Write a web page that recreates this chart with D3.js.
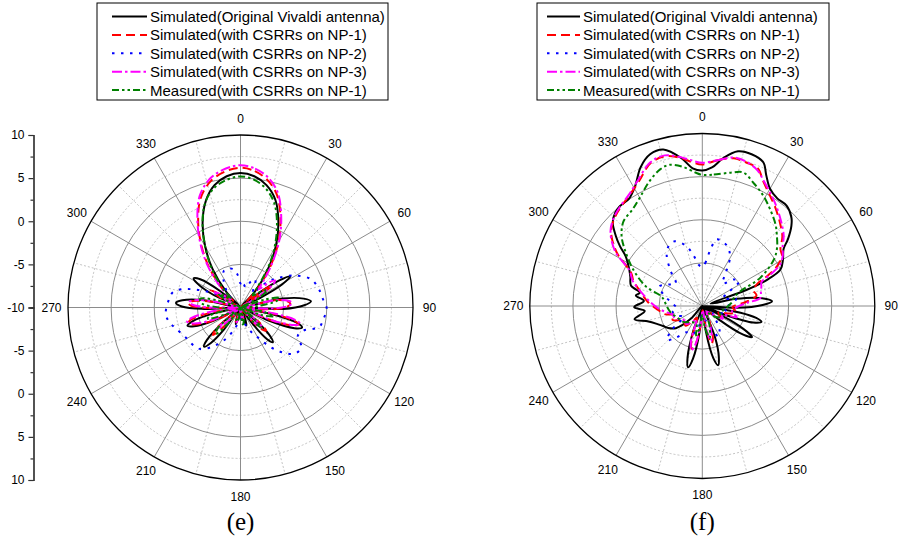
<!DOCTYPE html>
<html>
<head>
<meta charset="utf-8">
<script src="https://cdn.jsdelivr.net/npm/d3@7"></script>
<style>
  body { margin: 0; background: #fff; }
  svg { display: block; }
  text { font-family: "Liberation Sans", Arial, sans-serif; fill: #000; }
</style>
</head>
<body>
<svg id="chart" width="899" height="542"></svg>
<script>
// ---- data: [angle in degrees, gain in dB] ----
const seriesNames = [
  "Simulated(Original Vivaldi antenna)",
  "Simulated(with CSRRs on NP-1)",
  "Simulated(with CSRRs on NP-2)",
  "Simulated(with CSRRs on NP-3)",
  "Measured(with CSRRs on NP-1)"
];
const angleTicks = d3.range(0, 360, 30);
const axisTicks = [-10, -5, 0, 5, 10];
const axisMinor = [-7.5, -2.5, 2.5, 7.5];

// plot (e)
const simOrigE = [[0,5.6],[6,5.3],[12,4.5],[18,3.1],[24,0.8],[30,-1.8],[36,-4.7],[42,-7.5],[47,-10],
  [52,-7],[55,-4.5],[58,-3.2],[61,-4.5],[64,-7.5],[71,-10],
  [78,-5],[82,-2.6],[85,-1.8],[88,-2.6],[92,-5],[97,-10],
  [102,-6],[105,-3.3],[108,-2.5],[111,-3.3],[115,-6.5],[122,-10],
  [131,-7],[134,-5.2],[137,-4.5],[140,-5.2],[144,-8],[150,-10],
  [158,-8.5],[162,-7.8],[166,-9],[172,-10],[180,-10],
  [190,-9],[196,-8],[201,-9],[208,-10],
  [217,-6.8],[220,-4.6],[223,-3.8],[226,-4.6],[230,-7.5],[237,-10],
  [244,-6.5],[248,-4.2],[251,-3.5],[254,-4.2],[258,-7],[263,-10],
  [268,-5.5],[271,-3.2],[274,-2.5],[277,-3.2],[281,-5.5],[288,-10],
  [295,-6.5],[299,-4.3],[302,-3.6],[305,-4.3],[309,-7],[314,-10],
  [318,-7.5],[324,-4.5],[330,-1.8],[336,0.8],[342,3.0],[348,4.5],[354,5.3]];
const simNP1E = [[0,6.2],[6,5.9],[12,5.1],[18,3.7],[24,1.4],[30,-1.2],[36,-4.1],[42,-7],[47,-9],
  [52,-7],[55,-5.5],[58,-7],[63,-10],
  [78,-6],[82,-4.6],[86,-4.2],[90,-4.8],[94,-7],[98,-10],
  [101,-6],[104,-3.5],[106,-3.0],[109,-3.6],[113,-6.5],[119,-10],
  [128,-7.5],[132,-6],[136,-6.5],[141,-9],[150,-10],
  [165,-8.5],[172,-9],[180,-10],[190,-8.8],[198,-8],[205,-9.5],
  [220,-7.5],[225,-5.5],[229,-6.2],[234,-9],
  [243,-7],[249,-4.5],[253,-3.7],[256,-4],[260,-6.5],[265,-10],
  [269,-6.5],[272,-4.3],[275,-3.9],[278,-4.5],[282,-7],[288,-10],
  [296,-7.5],[300,-6],[304,-7.5],[310,-9],
  [316,-7],[322,-4.1],[328,-1.4],[334,1.2],[340,3.5],[347,5.1],[354,5.9]];
const simNP2E = [[0,-7.2],[8,-7.3],[15,-7.6],[22,-6.7],[28,-6.3],[34,-7.2],[40,-7.8],[46,-5.8],
  [52,-4.4],[60,-2.6],[68,-1.2],[76,-0.7],[84,-0.4],[91,0],[98,-0.3],[104,-0.6],[110,-2.2],
  [116,-2.6],[123,-1.6],[130,-1.7],[137,-2.9],[143,-4.3],[150,-6],[157,-7],[165,-8],[175,-8.8],
  [185,-8.5],[195,-7.5],[205,-6],[215,-4.5],[224,-3.3],[231,-3],[240,-2.8],[251,-2.2],[258,-1.6],
  [265,-1.3],[275,-1.6],[282,-1.9],[287,-2.8],[292,-4.5],[298,-6.5],[305,-8],[312,-8.5],
  [320,-7.5],[328,-6.3],[336,-5.3],[343,-5.3],[350,-5.5],[355,-6.2]];
const simNP3E = [[0,6.5],[6,6.2],[12,5.4],[18,4.0],[24,1.6],[30,-1.0],[36,-3.9],[41,-6],[45,-7],
  [49,-5.5],[52,-4.9],[55,-5.5],[59,-8],[65,-10],
  [78,-6],[82,-4.4],[85,-4.0],[88,-4.4],[92,-6.5],[97,-10],
  [100,-6],[103,-3.4],[105.5,-2.8],[108,-3.4],[112,-6],[118,-10],
  [128,-8],[133,-6.5],[137,-7.5],[143,-10],
  [165,-9],[172,-8.5],[180,-9.5],[188,-9],[195,-8.2],[202,-10],
  [222,-8],[227,-6.3],[232,-8.5],[240,-10],
  [246,-6.5],[251,-4.3],[255,-3.6],[258,-4.2],[262,-6.5],[267,-10],
  [270,-6.5],[273,-4.5],[276,-4.0],[279,-4.6],[283,-7],[289,-10],
  [297,-8],[301,-6.5],[305,-7.5],[311,-8.5],
  [316,-6.5],[322,-3.8],[328,-1.2],[334,1.4],[340,3.8],[347,5.4],[354,6.2]];
const measE = [[0,5.2],[6,4.9],[12,4.1],[18,2.7],[24,0.4],[30,-2.2],[35,-4.6],[40,-7],[45,-8],
  [52,-7],[57,-6.3],[62,-7.5],[68,-10],
  [72,-7],[76,-5.4],[80,-5.8],[85,-8],[92,-10],
  [100,-7.5],[105,-6],[110,-7.5],[118,-10],
  [128,-8],[134,-6.6],[139,-8],[146,-10],
  [165,-8.5],[172,-8],[180,-9.5],[190,-8.5],[197,-8.3],[205,-10],
  [218,-7.5],[223,-5.8],[228,-6.5],[234,-9],
  [245,-8],[251,-6],[256,-6.5],[262,-8.5],
  [270,-7.5],[276,-5.5],[282,-5.2],[287,-7],[293,-10],
  [298,-8],[302,-7],[307,-8],[312,-8.5],
  [317,-7],[323,-4.6],[329,-2.2],[335,0.4],[341,2.7],[347,4.1],[354,4.9]];

// plot (f)
const simOrigF = [[0,5.7],[4,6.1],[8,7.3],[13,8.4],[18,8.5],[23,8.1],[26,6.9],[30,5.7],[35,5.2],
  [40,5.2],[45,4.6],[48,3.9],[52,2.6],[55,1.5],[60,0.8],[65,0],[68,-1.9],[70,-4.5],[74,-9],
  [78,-6],[82,-3.3],[86,-1.9],[89,-3],[93,-6],[97,-10],
  [100,-5.5],[102.5,-3.6],[105,-2.9],[108,-3.8],[111,-7],[115,-10],
  [117,-6.5],[120,-4],[122,-3.2],[125,-4.2],[129,-7.5],[134,-10],
  [150,-10],[158,-6],[162,-3.8],[165,-2.9],[168,-3.8],[172,-7],[177,-10],
  [186,-7],[190,-3.8],[193,-2.7],[196,-3.8],[200,-7],[206,-10],
  [222,-8],[230,-6],[237,-5.3],[243,-4.9],[248,-4.4],[254,-3.5],[259,-2.0],[265,-3.3],
  [269,-2.1],[275,-3.2],[279,-2.2],[282,-2.6],[286,-1.4],[292,-1.0],[296,-0.6],[303,0.6],
  [306,1.8],[309,2.9],[313,4.2],[317,4.8],[320,5.0],[326,5.1],[331,6.0],[336,7.6],[341,8.6],
  [346,8.7],[352,7.3],[356,6.0]];
const simNP1F = [[0,6.4],[6,7.0],[12,7.5],[17,7.4],[22,7.2],[26,6.1],[31,5.1],[36,4.3],[43,3.2],
  [49,2.3],[54,1.2],[58,0.9],[62,-0.2],[65,-1.6],[68,-3.1],[73,-3.8],[79,-3.6],[85,-5],[92,-6.5],
  [100,-6],[106,-6.8],[112,-8],[120,-7.5],[128,-8.5],[140,-9],[155,-8],[162,-6],[166,-5.5],
  [170,-7],[176,-9.5],[184,-8],[190,-5.5],[194,-4.9],[198,-6],[204,-8.5],[212,-8],[220,-7],
  [232,-7.2],[245,-6.2],[252,-6.6],[258,-5.5],[265,-4.85],[274,-3.7],[284,-2.5],[290,-1.5],
  [295,-0.9],[302,1.7],[309,3.6],[315,4.4],[321,4.9],[327,5.4],[333,6.2],[340,7.6],[346,7.9],
  [352,7.3],[356,6.7]];
const simNP2F = [[0,-5.5],[4,-5],[8,-3.5],[12,-2.1],[18,-2.2],[24,-2.6],[30,-3.6],[36,-5.5],
  [42,-6.5],[50,-5.2],[56,-4.8],[62,-6.5],[70,-7.5],[78,-6],[85,-6.5],[95,-7.5],[105,-7],
  [115,-8],[125,-8.5],[135,-7.8],[145,-6.5],[152,-6],[160,-7.5],[170,-8.5],[180,-9],[190,-7.5],
  [200,-6.5],[210,-6.5],[220,-5.2],[226,-4.3],[232,-5.5],[240,-7.5],[250,-6.8],[258,-6.5],
  [266,-7],[275,-6.5],[285,-5.5],[294,-4.5],[302,-5.3],[310,-6],[318,-4.5],[325,-2.8],
  [331,-2],[337,-1.85],[345,-2.8],[350,-4],[355,-5.2]];
const simNP3F = [[0,6.6],[6,7.0],[12,7.6],[17,7.5],[22,7.0],[26,6.2],[31,5.3],[36,4.5],[43,3.4],
  [49,2.5],[54,1.5],[58,1.0],[62,0.2],[65,-1.2],[68,-2.6],[72,-2.8],[76,-3.0],[82,-3.2],
  [86,-4.8],[92,-6],[100,-6.5],[108,-5.8],[114,-7.5],[122,-7.2],[130,-8.5],[142,-9.2],
  [155,-8.3],[162,-6.5],[166,-5.8],[170,-7.2],[176,-9.5],[184,-8.2],[190,-5.5],[194,-4.7],
  [198,-5.8],[204,-8.3],[212,-7.8],[222,-7.2],[234,-7.3],[246,-6.5],[254,-6.4],[260,-5.8],
  [266,-5.0],[274,-4.0],[283,-2.7],[290,-1.4],[296,-0.6],[302,1.9],[309,3.7],[315,4.5],
  [321,5.0],[327,5.5],[333,6.4],[340,7.7],[346,8.0],[352,7.4],[356,6.9]];
const measF = [[0,5.2],[5,5.3],[12,5.8],[17,6.2],[23,5.4],[29,4.6],[35,3.7],[42,2.7],[46,2.0],
  [52,1.0],[57,-0.1],[64,-2.5],[69,-5.3],[75,-6.2],[82,-6.5],[90,-7],[100,-7.5],[110,-7.8],
  [120,-7.5],[130,-8],[145,-9],[160,-7.5],[167,-6.2],[173,-7.5],[180,-9],[187,-7.5],[192,-6.5],
  [198,-7.8],[212,-7.8],[228,-7.2],[245,-6.8],[260,-6.2],[272,-5.8],[279,-5.5],[284,-5.0],
  [289,-3.1],[298,-0.9],[306,1.1],[311,2.4],[317,3.4],[324,3.8],[330,4.5],[337,5.7],[343,6.6],
  [347,6.8],[352,6.3],[357,5.5]];

// ---- styles ----
const styles = [
  { color: "#000000", dash: null },
  { color: "#ff0000", dash: "9,5" },
  { color: "#0000ff", dash: "2.5,6.5" },
  { color: "#ff00ff", dash: "10,3,2.5,3" },
  { color: "#008000", dash: "7,3,2.5,3,2.5,3" }
];

const svg = d3.select("#chart");
const R = 172.5;
const rScale = d3.scaleLinear().domain([-10, 10]).range([0, R]).clamp(true);
const rad = d => d * Math.PI / 180;

function drawPolar(cx, cy, seriesList, label) {
  const g = svg.append("g").attr("transform", `translate(${cx},${cy})`);

  // dashed rings and spokes
  g.selectAll(".minorRing").data(axisMinor).enter().append("circle")
    .attr("r", d => rScale(d)).attr("fill", "none")
    .attr("stroke", "#b4b4b4").attr("stroke-width", 0.8).attr("stroke-dasharray", "2,2");
  g.selectAll(".minorSpoke").data(d3.range(15, 360, 30)).enter().append("line")
    .attr("x1", 0).attr("y1", 0)
    .attr("x2", d => R * Math.sin(rad(d))).attr("y2", d => -R * Math.cos(rad(d)))
    .attr("stroke", "#b4b4b4").attr("stroke-width", 0.8).attr("stroke-dasharray", "2,2");
  // solid rings and spokes
  g.selectAll(".majorRing").data([-5, 0, 5]).enter().append("circle")
    .attr("r", d => rScale(d)).attr("fill", "none")
    .attr("stroke", "#8c8c8c").attr("stroke-width", 1);
  g.selectAll(".majorSpoke").data(angleTicks).enter().append("line")
    .attr("x1", 0).attr("y1", 0)
    .attr("x2", d => R * Math.sin(rad(d))).attr("y2", d => -R * Math.cos(rad(d)))
    .attr("stroke", "#8c8c8c").attr("stroke-width", 1);
  g.append("circle").attr("r", R).attr("fill", "none")
    .attr("stroke", "#000").attr("stroke-width", 1.3);

  // angle labels
  g.selectAll(".angLabel").data(angleTicks).enter().append("text")
    .attr("x", d => 189 * Math.sin(rad(d)))
    .attr("y", d => -189 * Math.cos(rad(d)))
    .attr("text-anchor", "middle").attr("dominant-baseline", "central")
    .attr("font-size", 12).text(d => d);

  // curves
  const line = d3.lineRadial()
    .angle(d => rad(d[0]))
    .radius(d => rScale(d[1]))
    .curve(d3.curveCatmullRomClosed.alpha(0.5));
  seriesList.forEach((s, i) => {
    g.append("path").datum(s)
      .attr("d", line)
      .attr("fill", "none")
      .attr("stroke", styles[i].color)
      .attr("stroke-width", 2)
      .attr("stroke-dasharray", styles[i].dash)
      .attr("stroke-linejoin", "round");
  });

  svg.append("text").attr("x", cx).attr("y", 530)
    .attr("text-anchor", "middle")
    .style("font-family", '"Liberation Serif", "Times New Roman", serif')
    .attr("font-size", 25).text(label);
}

function drawLegend(x, y, w, lineX1, lineX2, textX) {
  const g = svg.append("g");
  g.append("rect").attr("x", x).attr("y", y).attr("width", w).attr("height", 97)
    .attr("fill", "#fff").attr("stroke", "#000").attr("stroke-width", 1);
  seriesNames.forEach((name, i) => {
    const yy = y + 13.5 + i * 18.4;
    g.append("line").attr("x1", lineX1).attr("x2", lineX2).attr("y1", yy).attr("y2", yy)
      .attr("stroke", styles[i].color).attr("stroke-width", 2)
      .attr("stroke-dasharray", styles[i].dash);
    g.append("text").attr("x", textX).attr("y", yy).attr("dominant-baseline", "central")
      .attr("font-size", 15).text(name);
  });
}

drawPolar(240.5, 307.5, [simOrigE, simNP1E, simNP2E, simNP3E, measE], "(e)");
drawPolar(702.3, 306, [simOrigF, simNP1F, simNP2F, simNP3F, measF], "(f)");

// left radial axis: two halves mirrored around the centre
const yTop = d3.scaleLinear().domain([-10, 10]).range([307.5, 307.5 - R]);
const yBot = d3.scaleLinear().domain([-10, 10]).range([307.5, 307.5 + R]);
[yTop, yBot].forEach((sc, k) => {
  const major = svg.append("g").attr("transform", "translate(33.5,0)")
    .call(d3.axisLeft(sc).tickValues(k === 0 ? axisTicks : axisTicks.slice(1))
      .tickSize(5).tickPadding(4).tickFormat(d => String(d)));
  const minor = svg.append("g").attr("transform", "translate(33.5,0)")
    .call(d3.axisLeft(sc).tickValues(axisMinor).tickSize(3).tickFormat(""));
  [major, minor].forEach(ax => {
    ax.selectAll("path, line").attr("stroke", "#333").attr("stroke-width", 1.2);
    ax.selectAll("text").attr("font-size", 12).attr("fill", "#000")
      .style("font-family", '"Liberation Sans", Arial, sans-serif');
  });
});

drawLegend(97, 3, 291, 112, 147, 150);
drawLegend(537, 3, 292, 547, 580, 583);
</script>
</body>
</html>
